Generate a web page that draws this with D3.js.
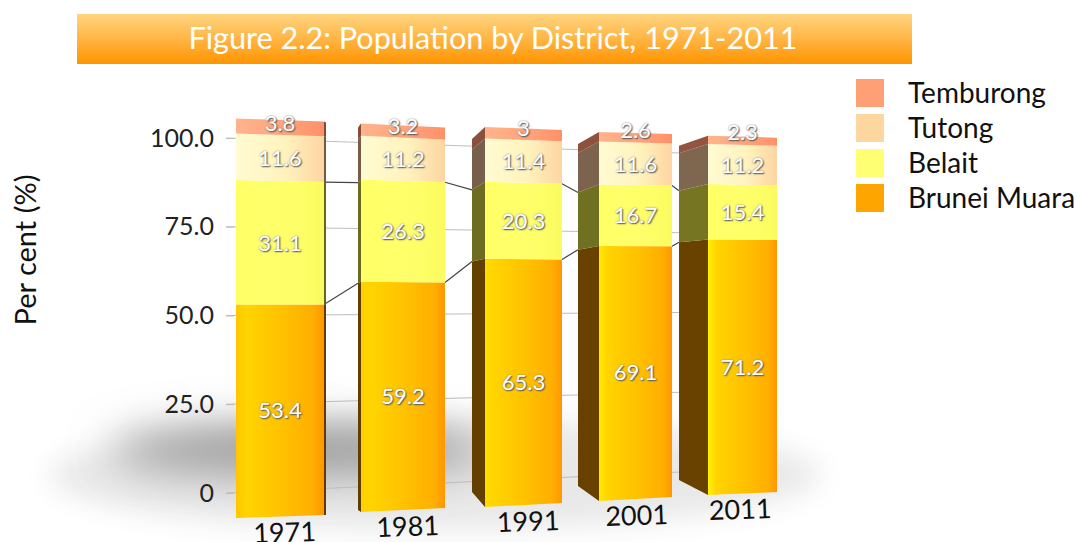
<!DOCTYPE html>
<html>
<head>
<meta charset="utf-8">
<script src="https://d3js.org/d3.v7.min.js"></script>
<style>
  html, body { margin: 0; background: #fff; }
  svg { display: block; }
  text { font-family: Lato, "Open Sans", sans-serif; }
  .vlabel { fill: #fff; font-size: 22px; text-anchor: middle; text-shadow: 1px 1px 1.5px #555, 0 0 2px #888; }
</style>
</head>
<body>
<svg id="chart" width="1077" height="542"></svg>
<script>
// data, stacked bottom to top
const years = ["1971", "1981", "1991", "2001", "2011"];
const seriesNames = ["Brunei Muara", "Belait", "Tutong", "Temburong"];
const bruneiMuara = [53.4, 59.2, 65.3, 69.1, 71.2];
const belait = [31.1, 26.3, 20.3, 16.7, 15.4];
const tutong = [11.6, 11.2, 11.4, 11.6, 11.2];
const temburong = [3.8, 3.2, 3, 2.6, 2.3];
const yTicks = [0, 25, 50, 75, 100];
const yTickLabels = ["0", "25.0", "50.0", "75.0", "100.0"];

const seriesValues = [bruneiMuara, belait, tutong, temburong];
const legendColors = ["#ffa500", "#ffff73", "#fdd6a0", "#ff9f75"];
const sideColors = ["#5e3b00", "#666620", "#705a46", "#824a38"];

const svg = d3.select("#chart");
const idx = d3.range(years.length);

// the bars are in perspective, so every edge of a bar gets its own pixel scale per category
const frontLeftX = d3.scaleLinear().domain(idx).range([236, 361, 485, 599, 708]);
const frontRightX = d3.scaleLinear().domain(idx).range([324, 445, 562, 672, 777]);
const sideX = d3.scaleLinear().domain(idx).range([326, 358, 472, 578, 679]);
const leftBase = d3.scaleLinear().domain(idx).range([518, 512, 507, 501, 495]);
const leftTop = d3.scaleLinear().domain(idx).range([118, 123, 127, 132, 136]);
const rightBase = d3.scaleLinear().domain(idx).range([515, 508, 503, 497, 492]);
const rightTop = d3.scaleLinear().domain(idx).range([121, 127, 130, 134, 138]);
const sideBase = d3.scaleLinear().domain(idx).range([515, 510, 492, 486, 480]);
const sideTop = d3.scaleLinear().domain(idx).range([122, 127, 139, 144, 146]);

const edgeY = (base, top, i) => d3.scaleLinear().domain([0, 100]).range([base(i), top(i)]);

// back wall of the chart
const wallLeftY = d3.scaleLinear().domain([0, 100]).range([493, 138]);
const wallRightY = d3.scaleLinear().domain([0, 100]).range([472, 153]);
const wallX = d3.scaleLinear().domain([0, 1]).range([226, 680]);

const defs = svg.append("defs");

defs.append("filter").attr("id", "soft").append("feGaussianBlur").attr("stdDeviation", 0.5);
defs.append("filter").attr("id", "blurWide")
  .attr("x", "-30%").attr("y", "-60%").attr("width", "160%").attr("height", "220%")
  .append("feGaussianBlur").attr("stdDeviation", 14);
defs.append("filter").attr("id", "blurDark")
  .attr("x", "-30%").attr("y", "-100%").attr("width", "160%").attr("height", "300%")
  .append("feGaussianBlur").attr("stdDeviation", 22);

function gradient(id, x2, y2, stops) {
  const g = defs.append("linearGradient").attr("id", id)
    .attr("x1", 0).attr("y1", 0).attr("x2", x2).attr("y2", y2);
  stops.forEach(s => g.append("stop").attr("offset", s[0]).attr("stop-color", s[1]));
}
gradient("titleFill", 0, 1, [[0, "#ffd580"], [0.45, "#ffb84a"], [1, "#ff9400"]]);
// the yellow highlight on the left of the orange segment gets stronger towards the later bars
const highlight = d3.scaleLinear().domain([0, 4]).range(["#ffc600", "#fff200"]);
idx.forEach(i => {
  gradient("muara" + i, 1, 0, [[0, highlight(i)], [0.12, "#ffd400"], [0.55, "#ffc000"], [0.88, "#ffae00"], [1, "#ff9600"]]);
});
gradient("front1", 1, 0, [[0, "#ffff66"], [0.5, "#ffff6c"], [1, "#fbfb60"]]);
gradient("front2", 1, 0, [[0, "#fffbd2"], [0.55, "#fff3bd"], [1, "#fdd5a2"]]);
gradient("front3", 1, 0, [[0, "#ffb48c"], [0.6, "#ffa27a"], [1, "#ff9068"]]);

// floor shadow
const shadow = svg.append("g");
shadow.append("ellipse").attr("cx", 435).attr("cy", 475).attr("rx", 385).attr("ry", 55)
  .attr("fill", "#e8e8e8").attr("filter", "url(#blurWide)");
shadow.append("ellipse").attr("cx", 300).attr("cy", 450).attr("rx", 190).attr("ry", 25)
  .attr("fill", "#999").attr("filter", "url(#blurDark)");

// gridlines on the wall
svg.append("g").selectAll("line").data(yTicks).join("line")
  .attr("x1", wallX(0)).attr("x2", wallX(1))
  .attr("y1", d => wallLeftY(d)).attr("y2", d => wallRightY(d))
  .attr("stroke", "#bdbdbd").attr("stroke-width", 1);

// y axis
const yAxis = svg.append("g")
  .attr("transform", "translate(234,0)")
  .call(d3.axisLeft(wallLeftY).tickValues(yTicks).tickSize(8).tickPadding(12)
    .tickFormat(d => yTickLabels[yTicks.indexOf(d)]));
yAxis.select(".domain").remove();
yAxis.selectAll("line").attr("stroke", "#bdbdbd");
yAxis.selectAll("text").attr("fill", "#222").style("font-size", "25px")
  .style("font-family", "Lato, sans-serif");

svg.append("text")
  .attr("transform", "translate(36,250) rotate(-90)")
  .attr("text-anchor", "middle").attr("fill", "#111").style("font-size", "29px")
  .text("Per cent (%)");

// cumulative stack per category
const stacks = idx.map(i => {
  let sum = 0;
  return seriesValues.map(v => { const y0 = sum; sum += v[i]; return { y0: y0, y1: sum, v: v[i] }; });
});

// lines joining the series tops from bar to bar
const joins = svg.append("g");
[0, 1].forEach(s => {
  idx.slice(0, -1).forEach(i => {
    joins.append("line")
      .attr("x1", frontRightX(i)).attr("x2", sideX(i + 1))
      .attr("y1", edgeY(rightBase, rightTop, i)(stacks[i][s].y1))
      .attr("y2", edgeY(sideBase, sideTop, i + 1)(stacks[i + 1][s].y1))
      .attr("stroke", "#444").attr("stroke-width", 1.2);
  });
});

// bars
const bars = svg.append("g").attr("filter", "url(#soft)");
const pathLine = d3.line();
idx.forEach(i => {
  const yL = edgeY(leftBase, leftTop, i);
  const yR = edgeY(rightBase, rightTop, i);
  const yS = edgeY(sideBase, sideTop, i);
  const attachRight = sideX(i) > frontRightX(i);
  const attachX = attachRight ? frontRightX(i) : frontLeftX(i);
  const yA = attachRight ? yR : yL;

  stacks[i].forEach((seg, s) => {
    bars.append("path")
      .attr("d", pathLine([
        [sideX(i), yS(seg.y0)], [attachX, yA(seg.y0)],
        [attachX, yA(seg.y1)], [sideX(i), yS(seg.y1)]
      ]) + "Z")
      .attr("fill", d3.color(sideColors[s]).brighter(i * 0.09));
    bars.append("path")
      .attr("d", pathLine([
        [frontLeftX(i), yL(seg.y0)], [frontRightX(i), yR(seg.y0)],
        [frontRightX(i), yR(seg.y1)], [frontLeftX(i), yL(seg.y1)]
      ]) + "Z")
      .attr("fill", s === 0 ? "url(#muara" + i + ")" : "url(#front" + s + ")");
  });
});

// value labels; the thin top segment has its label pushed up over the bar top
const topShift = d3.scaleLinear().domain([0, 4]).range([-4, -9]);
idx.forEach(i => {
  const yL = edgeY(leftBase, leftTop, i);
  const yR = edgeY(rightBase, rightTop, i);
  const cx = (frontLeftX(i) + frontRightX(i)) / 2;
  stacks[i].forEach((seg, s) => {
    const mid = (seg.y0 + seg.y1) / 2;
    const cy = (yL(mid) + yR(mid)) / 2 + (s === 3 ? topShift(i) : 0);
    svg.append("text").attr("class", "vlabel")
      .attr("x", cx).attr("y", cy).attr("dy", "0.36em")
      .text(seg.v);
  });
});

// category labels under the bars
const yearShift = d3.scaleLinear().domain([0, 2, 4]).range([5, 5, -2]);
idx.forEach(i => {
  const cx = (frontLeftX(i) + frontRightX(i)) / 2 + yearShift(i);
  const by = Math.max(leftBase(i), rightBase(i));
  svg.append("text")
    .attr("transform", "translate(" + cx + "," + (by + 24) + ") rotate(-2)")
    .attr("text-anchor", "middle").attr("fill", "#111").style("font-size", "27px")
    .text(years[i]);
});

// title banner
svg.append("rect").attr("x", 77).attr("y", 14).attr("width", 835).attr("height", 50)
  .attr("fill", "url(#titleFill)");
svg.append("text").attr("x", 493).attr("y", 49)
  .attr("text-anchor", "middle").attr("fill", "#fff").style("font-size", "30.6px")
  .text("Figure 2.2: Population by District, 1971-2011");

// legend, top entry first
const legendY = d3.scaleBand().domain([...seriesNames].reverse()).range([76, 216]);
const legend = svg.append("g").selectAll("g").data(seriesNames).join("g")
  .attr("transform", d => "translate(856," + legendY(d) + ")");
legend.append("rect").attr("y", 3).attr("width", 28).attr("height", 28)
  .attr("fill", (d, i) => legendColors[i]);
legend.append("text").attr("x", 52).attr("y", 27)
  .attr("fill", "#111").style("font-size", "28px")
  .text(d => d);
</script>
</body>
</html>
